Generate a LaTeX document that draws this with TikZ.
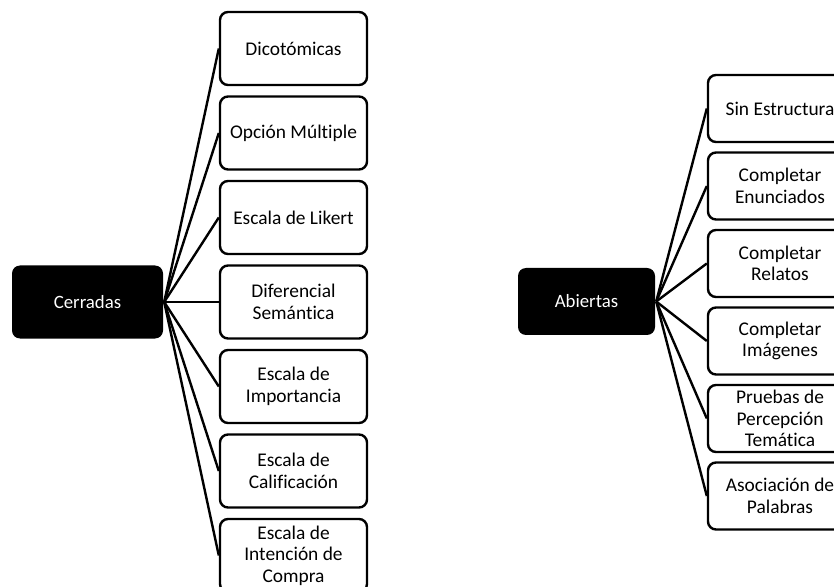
\documentclass[tikz,border=0pt]{standalone}
\usepackage{fontspec}
\setmainfont[Ligatures=NoCommon]{Carlito}
\usetikzlibrary{positioning}

\begin{document}
\begin{tikzpicture}[
      node distance=42.25pt, on grid, line width=1.2pt,
      root/.style={rectangle, rounded corners=4pt, fill=black, text=white, minimum width=75.5pt, minimum height=36.5pt, font=\fontsize{9.4}{11}\selectfont},
      leaf/.style={rectangle, rounded corners=4pt, draw, align=center, inner sep=1pt, minimum width=73.5pt, minimum height=36.5pt, font=\fontsize{9.7}{10.8}\selectfont},
      sleaf/.style={leaf, minimum width=72pt, minimum height=33.5pt}]

      \useasboundingbox (0,0) rectangle (417pt,-293.5pt);

      % Nodes
      \node[root] (cerr) at (43.75pt,-151pt) {Cerradas};
      \node[leaf, right=103pt of cerr] (dif) {Diferencial\\Semántica};
      \node[leaf, above=of dif] (lik) {Escala de Likert};
      \node[leaf, above=of lik] (opc) {Opción Múltiple};
      \node[leaf, above=of opc] (dic) {Dicotómicas};
      \node[leaf, below=of dif] (imp) {Escala de\\Importancia};
      \node[leaf, below=of imp] (cal) {Escala de\\Calificación};
      \node[leaf, below=of cal] (int) {Escala de\\Intención de\\Compra};

      \node[root, minimum width=68.5pt, minimum height=33.5pt] (abie) at (293.25pt,-150.75pt) {Abiertas};
      \node[sleaf] (sin) at (390pt,-54.25pt) {Sin Estructura};
      \node[sleaf, below=38.75pt of sin] (enu) {Completar\\Enunciados};
      \node[sleaf, below=38.75pt of enu] (rel) {Completar\\Relatos};
      \node[sleaf, below=38.75pt of rel] (ima) {Completar\\Imágenes};
      \node[sleaf, below=38.75pt of ima] (pru) {Pruebas de\\Percepción\\Temática};
      \node[sleaf, below=38.75pt of pru] (aso) {Asociación de\\Palabras};

      % Edges
      \path (cerr.east) edge (dic.west)
            (cerr.east) edge (opc.west)
            (cerr.east) edge (lik.west)
            (cerr.east) edge (dif.west)
            (cerr.east) edge (imp.west)
            (cerr.east) edge (cal.west)
            (cerr.east) edge (int.west);

      \path (abie.east) edge (sin.west)
            (abie.east) edge (enu.west)
            (abie.east) edge (rel.west)
            (abie.east) edge (ima.west)
            (abie.east) edge (pru.west)
            (abie.east) edge (aso.west);

    \end{tikzpicture}
\end{document}
